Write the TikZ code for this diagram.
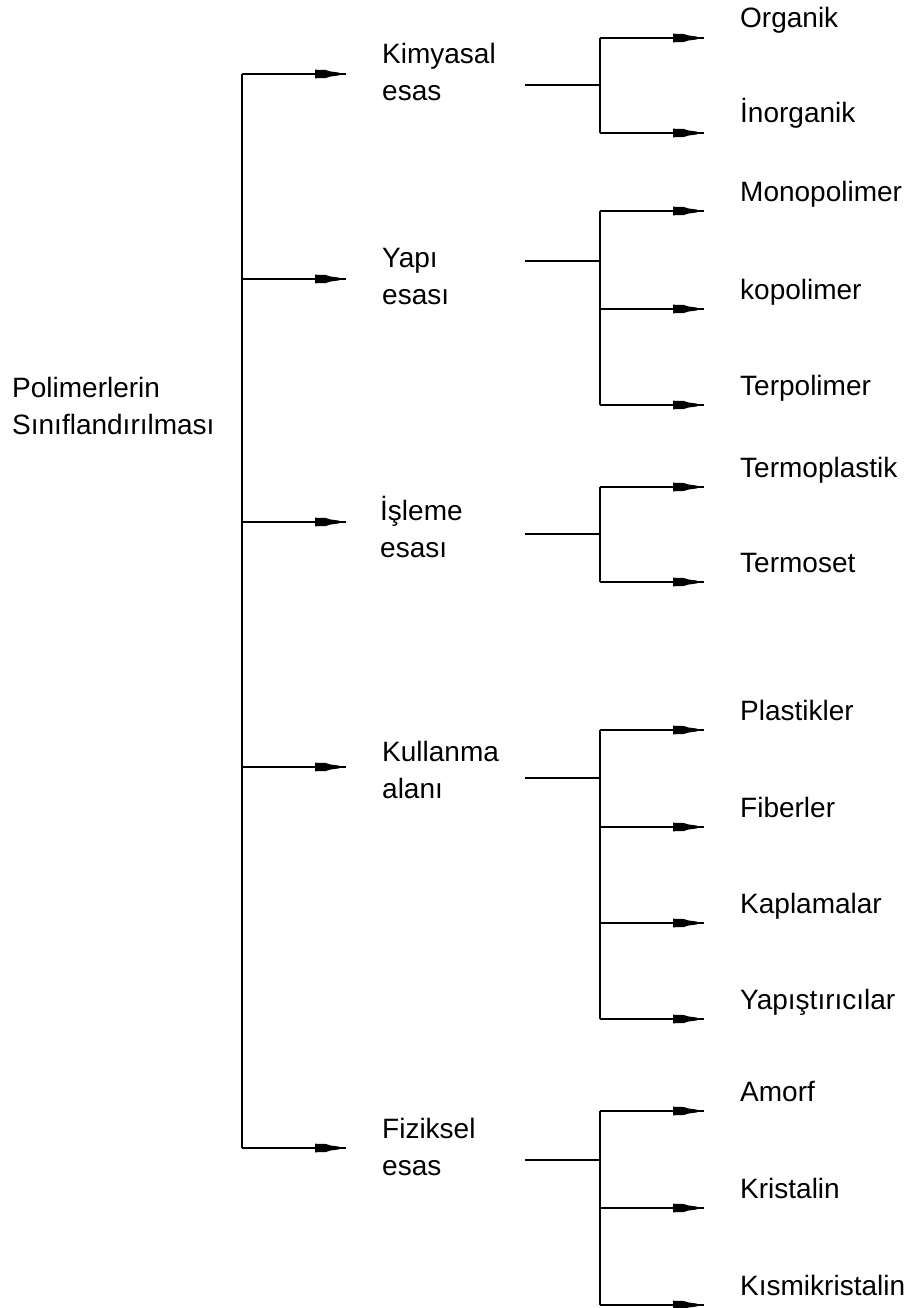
\documentclass[tikz,border=0pt]{standalone}
\usepackage{fontspec}
\setmainfont{Liberation Sans}
\usetikzlibrary{decorations.markings}
\tikzset{
  lbl/.style={anchor=west, inner sep=0pt, font=\fontsize{28}{37}\selectfont, align=left},
  leaf/.style={anchor=base west, inner sep=0pt, font=\fontsize{28}{37}\selectfont},
  trunk/.style={line width=2.4pt},
  cadarrow/.style={postaction={decorate, decoration={markings,
      mark=at position -7pt with {\fill[black] (-24pt,-4.3pt) -- (-13pt,-4pt) -- (-9pt,-2.6pt) -- (0pt,-1.4pt) -- (0pt,1.4pt) -- (-9pt,2.6pt) -- (-13pt,4pt) -- (-24pt,4.3pt) -- cycle;}}}},
  twig/.style={line width=1.3pt, cadarrow},
}
\begin{document}
\begin{tikzpicture}[x=1pt, y=-1pt]
\useasboundingbox (0,0) rectangle (912,1308);
% root
\node[lbl] (root) at (12,406) {Polimerlerin\\Sınıflandırılması};
% trunk
\coordinate (j1) at (242,74);
\coordinate (j2) at (242,279);
\coordinate (j3) at (242,522);
\coordinate (j4) at (242,767);
\coordinate (j5) at (242,1148);
\draw[trunk] (j1) -- (j5);
% middle labels
\node[lbl] (m1) at (382,72) {Kimyasal\\esas};
\node[lbl] (m2) at (382,277) {Yapı\\esası};
\node[lbl] (m3) at (380,527) {İşleme\\esası};
\node[lbl] (m4) at (382,770) {Kullanma\\alanı};
\node[lbl] (m5) at (382,1147) {Fiziksel\\esas};
\foreach \i/\y in {1/74,2/279,3/522,4/767,5/1148}{
  \coordinate (a\i) at (346,\y);
  \draw[twig] (j\i) -- (a\i);
}
% second level stems
\foreach \i/\y/\t/\b in {1/85/38/133, 2/261/211/405, 3/534/487/582, 4/778/730/1019, 5/1160/1111/1305}{
  \coordinate (s\i) at (525,\y);
  \coordinate (v\i) at (600,\y);
  \coordinate (vt\i) at (600,\t);
  \coordinate (vb\i) at (600,\b);
  \draw[trunk] (s\i) -- (v\i);
  \draw[trunk] (vt\i) -- (vb\i);
}
% leaves
\foreach \n/\y/\txt in {
  11/38/Organik, 12/133/İnorganik,
  21/211/Monopolimer, 22/309/kopolimer, 23/405/Terpolimer,
  31/487/Termoplastik, 32/582/Termoset,
  41/730/Plastikler, 42/827/Fiberler, 43/923/Kaplamalar, 44/1019/Yapıştırıcılar,
  51/1111/Amorf, 52/1208/Kristalin, 53/1305/Kısmikristalin}{
  \coordinate (b\n) at (600,\y);
  \coordinate (e\n) at (704,\y);
  \draw[twig] (b\n) -- (e\n);
  \node[leaf] (l\n) at (740,\y-10) {\txt};
}
\end{tikzpicture}
\end{document}
